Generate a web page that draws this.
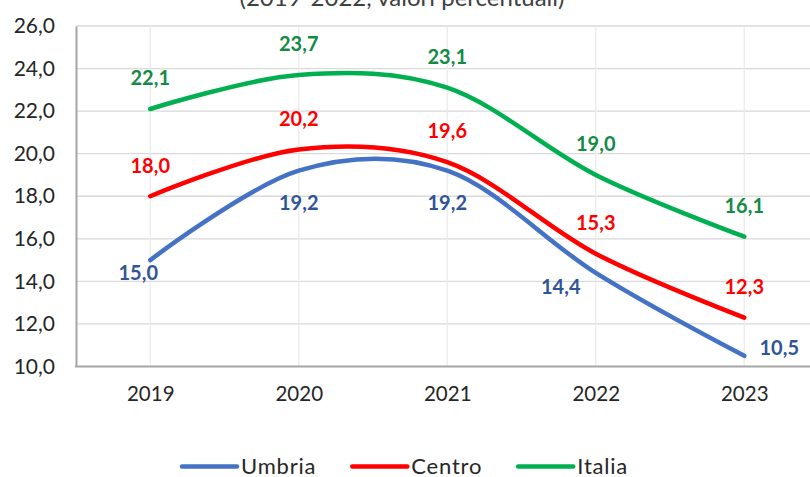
<!DOCTYPE html>
<html>
<head>
<meta charset="utf-8">
<script src="https://cdn.jsdelivr.net/npm/d3@7"></script>
<style>
  body { margin: 0; background: #fff; }
  svg { display: block; font-family: Lato, 'Open Sans', sans-serif; }
</style>
</head>
<body>
<script>
// chart values
let years = ['2019', '2020', '2021', '2022', '2023']
let umbria = [15.0, 19.2, 19.2, 14.4, 10.5]
let centro = [18.0, 20.2, 19.6, 15.3, 12.3]
let italia = [22.1, 23.7, 23.1, 19.0, 16.1]
let seriesNames = ['Umbria', 'Centro', 'Italia']
let yTicks = [10, 12, 14, 16, 18, 20, 22, 24, 26]
let title = '(2019-2022, valori percentuali)'

let width = 810
let height = 477

let svg = d3
  .select('body')
  .append('svg')
  .attr('width', width)
  .attr('height', height)

// plot area (runs off the right edge, like the original crop)
let x = d3
  .scalePoint()
  .domain(years)
  .range([76, 818.5])
  .padding(0.5)

let y = d3
  .scaleLinear()
  .domain([10, 26])
  .range([366.5, 26])

let fmt = v => d3.format('.1f')(v).replace('.', ',')

// styles per series; label offsets copy the hand-placed labels
let series = [
  {
    name: seriesNames[0],
    values: umbria,
    line: '#4472C4',
    label: '#2F5597',
    off: [[-12, 13], [0, 32], [0, 32], [-35, 14], [35, -8]]
  },
  {
    name: seriesNames[1],
    values: centro,
    line: '#FF0000',
    label: '#FF0000',
    off: [[0, -30], [0, -30], [0, -31], [0, -31], [0, -31]]
  },
  {
    name: seriesNames[2],
    values: italia,
    line: '#00B050',
    label: '#138A45',
    off: [[0, -31], [0, -31], [0, -31], [0, -31], [0, -31]]
  }
]

// title, cut off at the top as in the original
svg
  .append('text')
  .attr('x', 402)
  .attr('y', 6)
  .attr('text-anchor', 'middle')
  .attr('font-size', 24)
  .attr('fill', '#404040')
  .text(title)

// gridlines
svg
  .append('g')
  .selectAll('line')
  .data(yTicks.filter(d => d > 10))
  .join('line')
  .attr('x1', 76)
  .attr('x2', width)
  .attr('y1', d => y(d))
  .attr('y2', d => y(d))
  .attr('stroke', '#D9D9D9')
  .attr('stroke-width', 1.3)

svg
  .append('g')
  .selectAll('line')
  .data(years)
  .join('line')
  .attr('x1', d => x(d))
  .attr('x2', d => x(d))
  .attr('y1', y(26))
  .attr('y2', y(10))
  .attr('stroke', '#EBEBEB')
  .attr('stroke-width', 1.3)

// axes
let yAxis = d3
  .axisLeft(y)
  .tickValues(yTicks)
  .tickSize(0)
  .tickPadding(21)
  .tickFormat(fmt)

svg
  .append('g')
  .attr('transform', 'translate(76,0)')
  .call(yAxis)
  .call(g => g.select('.domain').attr('stroke', '#A6A6A6').attr('stroke-width', 2))
  .call(g =>
    g
      .selectAll('text')
      .attr('font-size', 21)
      .attr('font-family', 'Lato, sans-serif')
      .attr('fill', '#262626')
  )

let xAxis = d3
  .axisBottom(x)
  .tickSize(0)
  .tickPadding(20)

svg
  .append('g')
  .attr('transform', `translate(0,${y(10)})`)
  .call(xAxis)
  .call(g =>
    g
      .select('.domain')
      .attr('d', `M75,0H${width}`)
      .attr('stroke', '#A6A6A6')
      .attr('stroke-width', 2)
  )
  .call(g =>
    g
      .selectAll('text')
      .attr('font-size', 20.5)
      .attr('font-family', 'Lato, sans-serif')
      .attr('fill', '#262626')
  )

// smoothed lines, excel-like
let line = d3
  .line()
  .x((d, i) => x(years[i]))
  .y(d => y(d))
  .curve(d3.curveCardinal.tension(0))

svg
  .append('g')
  .selectAll('path')
  .data(series)
  .join('path')
  .attr('d', d => line(d.values))
  .attr('fill', 'none')
  .attr('stroke', d => d.line)
  .attr('stroke-width', 4.5)
  .attr('stroke-linecap', 'round')

// data labels
series.forEach(s => {
  svg
    .append('g')
    .selectAll('text')
    .data(s.values)
    .join('text')
    .attr('x', (d, i) => x(years[i]) + s.off[i][0])
    .attr('y', (d, i) => y(d) + s.off[i][1])
    .attr('dy', '0.35em')
    .attr('text-anchor', 'middle')
    .attr('font-size', 20)
    .attr('font-weight', 'bold')
    .attr('fill', s.label)
    .text(fmt)
})

// legend
let legend = svg.append('g')
let cursor = 0
series.forEach(s => {
  let item = legend.append('g').attr('transform', `translate(${cursor},0)`)
  item
    .append('line')
    .attr('x1', 0)
    .attr('x2', 55)
    .attr('stroke', s.line)
    .attr('stroke-width', 4.5)
    .attr('stroke-linecap', 'round')
  let t = item
    .append('text')
    .attr('x', 59)
    .attr('dy', '0.35em')
    .attr('font-size', 22)
    .attr('letter-spacing', 0.8)
    .attr('fill', '#262626')
    .text(s.name)
  cursor += 59 + t.node().getComputedTextLength() + 36
})
legend.attr('transform', `translate(182,466.5)`)
</script>
</body>
</html>
